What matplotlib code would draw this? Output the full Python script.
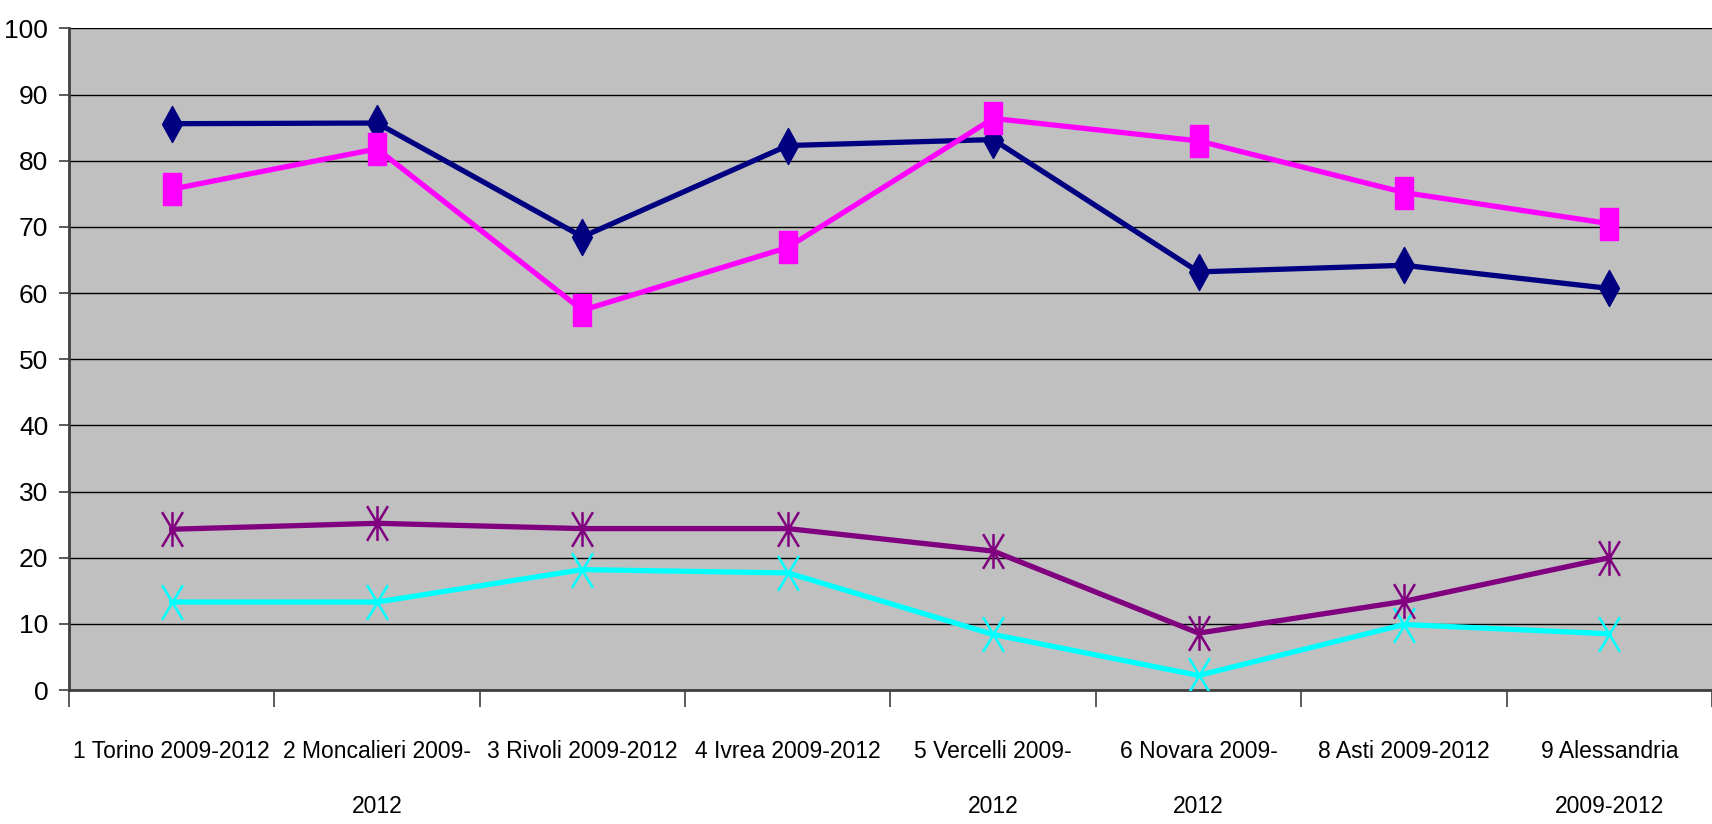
import numpy as np
import matplotlib.pyplot as plt
from matplotlib.path import Path

# categories (x axis)
labels = ["1 Torino 2009-2012", "2 Moncalieri 2009-\n2012", "3 Rivoli 2009-2012",
          "4 Ivrea 2009-2012", "5 Vercelli 2009-\n2012", "6 Novara 2009-\n2012",
          "8 Asti 2009-2012", "9 Alessandria\n2009-2012"]

# series values
navy_vals = [85.6, 85.7, 68.5, 82.3, 83.2, 63.2, 64.2, 60.7]
magenta_vals = [75.7, 81.8, 57.4, 66.9, 86.4, 83.0, 75.2, 70.5]
cyan_vals = [13.3, 13.3, 18.2, 17.7, 8.4, 2.2, 9.9, 8.5]
purple_vals = [24.3, 25.2, 24.4, 24.4, 21.0, 8.6, 13.4, 20.0]

plt.rcParams['font.family'] = ['Liberation Sans', 'DejaVu Sans']

# tall markers (the original chart is stretched vertically)
diamond = Path([(0, 1), (0.55, 0), (0, -1), (-0.55, 0), (0, 1)],
               [Path.MOVETO, Path.LINETO, Path.LINETO, Path.LINETO, Path.CLOSEPOLY])
square = Path([(-0.58, -1), (0.58, -1), (0.58, 1), (-0.58, 1), (-0.58, -1)],
              [Path.MOVETO, Path.LINETO, Path.LINETO, Path.LINETO, Path.CLOSEPOLY])
xmark = Path([(-0.6, -1), (0.6, 1), (-0.6, 1), (0.6, -1)],
             [Path.MOVETO, Path.LINETO, Path.MOVETO, Path.LINETO])
star = Path([(-0.6, -1), (0.6, 1), (-0.6, 1), (0.6, -1), (0, -1), (0, 1)],
            [Path.MOVETO, Path.LINETO, Path.MOVETO, Path.LINETO, Path.MOVETO, Path.LINETO])

x = np.arange(len(labels))

fig = plt.figure(figsize=(17.12, 8.24), dpi=100)
ax = fig.add_axes([0.0403, 0.1626, 0.9597, 0.8029])
ax.set_facecolor('#C0C0C0')

ax.plot(x, navy_vals, color='#000080', lw=3.8, marker=diamond, ms=26, zorder=3)
ax.plot(x, magenta_vals, color='#FF00FF', lw=3.8, marker=square, ms=23, zorder=3)
ax.plot(x, cyan_vals, color='#00FFFF', lw=3.8, marker=xmark, ms=25,
        mew=1.8, mec='#00FFFF', zorder=3)
ax.plot(x, purple_vals, color='#800080', lw=3.8, marker=star, ms=25,
        mew=1.8, mec='#800080', zorder=3)

ax.set_xlim(-0.5, 7.5)
ax.set_ylim(0, 100)
ax.set_yticks(np.arange(0, 101, 10))
ax.yaxis.grid(True, color='black', lw=1.0)
ax.set_axisbelow(True)

ax.set_xticks(np.arange(-0.5, 8, 1))
ax.set_xticklabels([])
ax.set_xticks(x, minor=True)
ax.set_xticklabels(labels, minor=True, fontsize=16.5, linespacing=2.8)
ax.tick_params(axis='x', which='minor', length=0, pad=36)
ax.tick_params(axis='x', which='major', length=12, width=1.2, color='#404040', direction='out')
ax.tick_params(axis='y', length=7, width=1.2, color='#404040', labelsize=19, pad=8)

for s in ['top', 'right']:
    ax.spines[s].set_visible(False)
for s in ['left', 'bottom']:
    ax.spines[s].set_color('#404040')
    ax.spines[s].set_linewidth(2)

fig.savefig('out.png', dpi=100)
